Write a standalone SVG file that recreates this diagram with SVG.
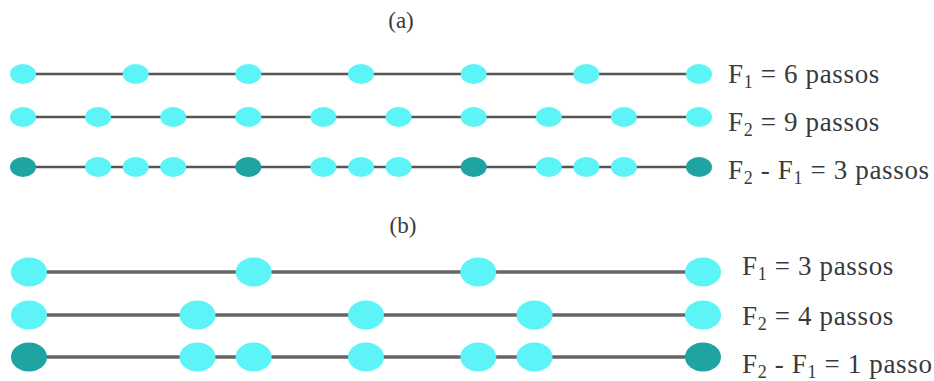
<svg xmlns="http://www.w3.org/2000/svg" width="934" height="381" viewBox="0 0 934 381">
<style>
.la{stroke:#555;stroke-width:2.5}
.lb{stroke:#666;stroke-width:3.5}
.c{fill:#5cf4f6}
.d{fill:#1fa3a3}
.t{font-family:"Liberation Serif","Times New Roman",serif;font-size:27px;fill:#3a3a3a;letter-spacing:0.65px}
.s{font-size:18px}
.h{font-family:"Liberation Serif","Times New Roman",serif;font-size:23px;fill:#3a3a3a;text-anchor:middle}
</style>
<rect width="934" height="381" fill="#fff"/>
<text class="h" x="401" y="28">(a)</text>
<text class="h" x="403" y="233">(b)</text>
<g id="connectors">
<line class="la" x1="23" y1="74" x2="699" y2="74"/>
<line class="la" x1="23" y1="117" x2="699" y2="117"/>
<line class="la" x1="23" y1="167" x2="699" y2="167"/>
<line class="lb" x1="29" y1="272" x2="703" y2="272"/>
<line class="lb" x1="29" y1="315" x2="703" y2="315"/>
<line class="lb" x1="29" y1="357" x2="703" y2="357"/>
</g>
<g id="a-row1">
<g id="a1-0"><ellipse class="c" cx="23" cy="74" rx="13" ry="10"/></g>
<g id="a1-1"><ellipse class="c" cx="135.7" cy="74" rx="13" ry="10"/></g>
<g id="a1-2"><ellipse class="c" cx="248.3" cy="74" rx="13" ry="10"/></g>
<g id="a1-3"><ellipse class="c" cx="361" cy="74" rx="13" ry="10"/></g>
<g id="a1-4"><ellipse class="c" cx="473.7" cy="74" rx="13" ry="10"/></g>
<g id="a1-5"><ellipse class="c" cx="586.3" cy="74" rx="13" ry="10"/></g>
<g id="a1-6"><ellipse class="c" cx="699" cy="74" rx="13" ry="10"/></g>
</g>
<g id="a-row2">
<g id="a2-0"><ellipse class="c" cx="23" cy="117" rx="13" ry="10"/></g>
<g id="a2-1"><ellipse class="c" cx="98.1" cy="117" rx="13" ry="10"/></g>
<g id="a2-2"><ellipse class="c" cx="173.2" cy="117" rx="13" ry="10"/></g>
<g id="a2-3"><ellipse class="c" cx="248.3" cy="117" rx="13" ry="10"/></g>
<g id="a2-4"><ellipse class="c" cx="323.4" cy="117" rx="13" ry="10"/></g>
<g id="a2-5"><ellipse class="c" cx="398.6" cy="117" rx="13" ry="10"/></g>
<g id="a2-6"><ellipse class="c" cx="473.7" cy="117" rx="13" ry="10"/></g>
<g id="a2-7"><ellipse class="c" cx="548.8" cy="117" rx="13" ry="10"/></g>
<g id="a2-8"><ellipse class="c" cx="623.9" cy="117" rx="13" ry="10"/></g>
<g id="a2-9"><ellipse class="c" cx="699" cy="117" rx="13" ry="10"/></g>
</g>
<g id="a-row3">
<g id="a3-0"><ellipse class="d" cx="23" cy="167" rx="13" ry="10"/></g>
<g id="a3-1"><ellipse class="c" cx="98.1" cy="167" rx="13" ry="10"/></g>
<g id="a3-2"><ellipse class="c" cx="135.7" cy="167" rx="13" ry="10"/></g>
<g id="a3-3"><ellipse class="c" cx="173.2" cy="167" rx="13" ry="10"/></g>
<g id="a3-4"><ellipse class="d" cx="248.3" cy="167" rx="13" ry="10"/></g>
<g id="a3-5"><ellipse class="c" cx="323.4" cy="167" rx="13" ry="10"/></g>
<g id="a3-6"><ellipse class="c" cx="361" cy="167" rx="13" ry="10"/></g>
<g id="a3-7"><ellipse class="c" cx="398.6" cy="167" rx="13" ry="10"/></g>
<g id="a3-8"><ellipse class="d" cx="473.7" cy="167" rx="13" ry="10"/></g>
<g id="a3-9"><ellipse class="c" cx="548.8" cy="167" rx="13" ry="10"/></g>
<g id="a3-10"><ellipse class="c" cx="586.3" cy="167" rx="13" ry="10"/></g>
<g id="a3-11"><ellipse class="c" cx="623.9" cy="167" rx="13" ry="10"/></g>
<g id="a3-12"><ellipse class="d" cx="699" cy="167" rx="13" ry="10"/></g>
</g>
<g id="b-row1">
<g id="b1-0"><ellipse class="c" cx="29" cy="272" rx="18" ry="14.5"/></g>
<g id="b1-1"><ellipse class="c" cx="253.7" cy="272" rx="18" ry="14.5"/></g>
<g id="b1-2"><ellipse class="c" cx="478.3" cy="272" rx="18" ry="14.5"/></g>
<g id="b1-3"><ellipse class="c" cx="703" cy="272" rx="18" ry="14.5"/></g>
</g>
<g id="b-row2">
<g id="b2-0"><ellipse class="c" cx="29" cy="315" rx="18" ry="14.5"/></g>
<g id="b2-1"><ellipse class="c" cx="197.5" cy="315" rx="18" ry="14.5"/></g>
<g id="b2-2"><ellipse class="c" cx="366" cy="315" rx="18" ry="14.5"/></g>
<g id="b2-3"><ellipse class="c" cx="534.5" cy="315" rx="18" ry="14.5"/></g>
<g id="b2-4"><ellipse class="c" cx="703" cy="315" rx="18" ry="14.5"/></g>
</g>
<g id="b-row3">
<g id="b3-0"><ellipse class="d" cx="29" cy="357" rx="18" ry="14.5"/></g>
<g id="b3-1"><ellipse class="c" cx="197.5" cy="357" rx="18" ry="14.5"/></g>
<g id="b3-2"><ellipse class="c" cx="253.7" cy="357" rx="18" ry="14.5"/></g>
<g id="b3-3"><ellipse class="c" cx="366" cy="357" rx="18" ry="14.5"/></g>
<g id="b3-4"><ellipse class="c" cx="478.3" cy="357" rx="18" ry="14.5"/></g>
<g id="b3-5"><ellipse class="c" cx="534.5" cy="357" rx="18" ry="14.5"/></g>
<g id="b3-6"><ellipse class="d" cx="703" cy="357" rx="18" ry="14.5"/></g>
</g>
<g id="labels">
<text class="t" x="728" y="83">F<tspan class="s" dy="5">1</tspan><tspan dy="-5"> = 6 passos</tspan></text>
<text class="t" x="728" y="131">F<tspan class="s" dy="5">2</tspan><tspan dy="-5"> = 9 passos</tspan></text>
<text class="t" x="728" y="179">F<tspan class="s" dy="5">2</tspan><tspan dy="-5"> - F</tspan><tspan class="s" dy="5">1</tspan><tspan dy="-5"> = 3 passos</tspan></text>
<text class="t" x="742" y="275">F<tspan class="s" dy="5">1</tspan><tspan dy="-5"> = 3 passos</tspan></text>
<text class="t" x="742" y="325">F<tspan class="s" dy="5">2</tspan><tspan dy="-5"> = 4 passos</tspan></text>
<text class="t" x="742" y="373">F<tspan class="s" dy="5">2</tspan><tspan dy="-5"> - F</tspan><tspan class="s" dy="5">1</tspan><tspan dy="-5"> = 1 passo</tspan></text>
</g>
</svg>
